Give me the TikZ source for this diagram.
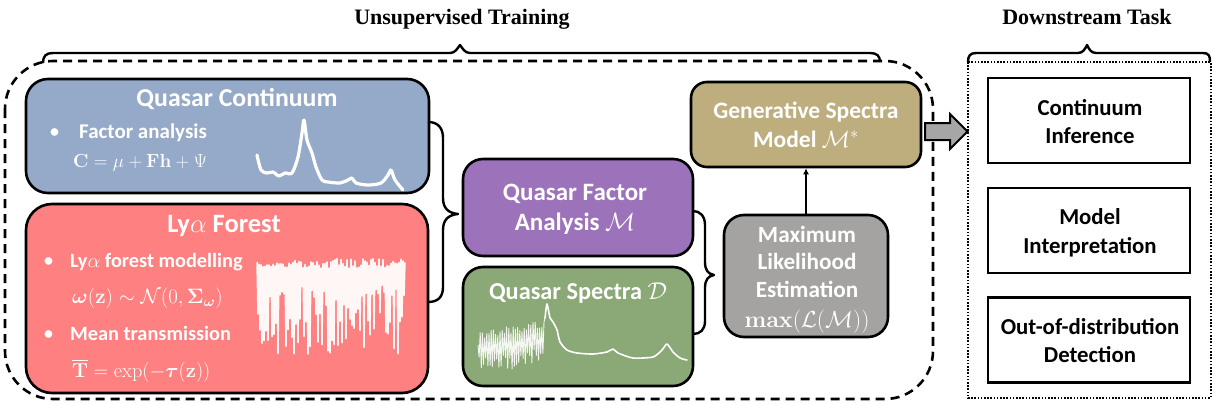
\RequirePackage{fix-cm}
\documentclass[tikz,border=0pt]{standalone}
\usepackage{amsmath,amssymb,bm}
\usepackage[no-math]{fontspec}
\setmainfont{Carlito}
\newfontfamily\titlefont{Liberation Serif}
\usetikzlibrary{arrows.meta}
\definecolor{contblue}{HTML}{95A9C9}
\definecolor{lyared}{HTML}{FF8080}
\definecolor{qfapurple}{HTML}{9C72BA}
\definecolor{qsgreen}{HTML}{8BA877}
\definecolor{gengold}{HTML}{BEAE7E}
\definecolor{mlegray}{HTML}{A4A3A1}
\definecolor{arrowgray}{HTML}{A6A6A6}
\tikzset{
  cbox/.style={draw=black, line width=2.6pt, inner sep=0pt},
  dbox/.style={draw=black, line width=2.6pt, inner sep=0pt, minimum width=202, minimum height=85},
  wtext/.style={text=white, inner sep=0pt, anchor=base, font=\fontsize{#1}{#1}\bfseries\selectfont},
  wtext/.default=21,
  btext/.style={text=black, inner sep=0pt, anchor=base, font=\fontsize{22.8}{22.8}\bfseries\selectfont},
  ftext/.style={text=white, inner sep=0pt, anchor=base west, font=\fontsize{#1}{#1}\selectfont},
  ftext/.default=19,
  ltext/.style={text=white, inner sep=0pt, anchor=base west, font=\fontsize{#1}{#1}\bfseries\selectfont},
  bracelink/.style={draw=black, line width=2.4pt, line join=round},
  heading/.style={inner sep=0pt, anchor=base, font=\fontsize{22}{22}\titlefont\bfseries\selectfont}
}
\begin{document}
\begin{tikzpicture}[x=1pt, y=-1pt]
\useasboundingbox (0,0) rectangle (1212,404);
\fill[white] (0,0) rectangle (1212,404);

% headings
\node[heading] (h1) at (462,25) {Unsupervised Training};
\node[heading] (h2) at (1087,25) {Downstream Task};

% top braces
\draw[bracelink] (43,63) .. controls (43,56) and (46,53) .. (53,53) -- (450,53)
  .. controls (455,53) and (457,49) .. (460,45) .. controls (463,49) and (465,53) .. (470,53)
  -- (870,53) .. controls (877,53) and (880,56) .. (880,62);
\draw[bracelink] (968,62) .. controls (968,56) and (970,53) .. (976,53) -- (1078,53)
  .. controls (1083,53) and (1085,49) .. (1087,45) .. controls (1089,49) and (1091,53) .. (1096,53)
  -- (1203,53) .. controls (1209,53) and (1210,56) .. (1210,62);

% dashed training frame
\draw[black, line width=2.6pt, dash pattern=on 9pt off 6pt, rounded corners=48pt] (5,61) rectangle (933,399);
% dotted downstream frame
\draw[black, line width=2pt, dash pattern=on 1.6pt off 1.6pt] (968,62) rectangle (1210.5,398);

% Quasar continuum
\node[cbox, fill=contblue, minimum width=403, minimum height=114, rounded corners=22pt] (cont) at (227.5,136) {};
\node[wtext=25.8] (contT) at (237,106) {Quasar Continuum};
\node[ltext=18] (contB) at (50,137) {\textbullet};
\node[ltext=21] (contL) at (79,138) {Factor analysis};
\node[ftext=19] (contF) at (73,167) {$\mathbf{C}=\mu+\mathbf{F}\mathbf{h}+\Psi$};
\draw[white, line width=3.2pt, line cap=round, line join=round] plot[smooth, tension=0.5] coordinates {
 (257,155) (261,170) (267,173) (273,172) (279,176) (285,173) (292,173) (298,157) (302,133) (304,120)
 (307,140) (312,153) (316,167) (322,180) (328,182) (340,183) (348,180) (352,178) (356,183) (368,185)
 (381,183) (388,175) (391,170) (395,180) (403,190)};

% Lya forest
\node[cbox, fill=lyared, minimum width=402, minimum height=189, rounded corners=26pt] (lya) at (227,298.5) {};
\node[wtext=26.5] (lyaT) at (224,232) {Ly$\alpha$ Forest};
\node[ltext=18] (lyaB1) at (44,266) {\textbullet};
\node[ltext=20.3] (lyaL1) at (70,267) {Ly$\alpha$ forest modelling};
\node[ftext=20.8] (lyaF1) at (72,303) {$\boldsymbol{\omega}(\mathbf{z})\sim\mathcal{N}(0,\boldsymbol{\Sigma}_{\boldsymbol{\omega}})$};
\node[ltext=18] (lyaB2) at (44,339) {\textbullet};
\node[ltext=20.3] (lyaL2) at (70,340) {Mean transmission};
\node[ftext=20.3] (lyaF2) at (72,377) {$\overline{\mathbf{T}}=\exp(-\boldsymbol{\tau}(\mathbf{z}))$};
\pgfmathsetseed{11}
\draw[white, opacity=0.93, line width=1.5pt, line join=round] (257,262)
  \foreach \i in {1,...,148}{ -- ({257+1.0*\i},{263+5*rand+isodd(\i)*(60+36*rand)}) };

% Quasar factor analysis
\node[cbox, fill=qfapurple, minimum width=230, minimum height=97, rounded corners=20pt] (qfa) at (578,207.5) {};
\node[wtext=25] (qfaT1) at (575,200) {Quasar Factor};
\node[wtext=25] (qfaT2) at (575,230) {Analysis $\mathcal{M}$};

% Quasar spectra
\node[cbox, fill=qsgreen, minimum width=230, minimum height=119, rounded corners=20pt] (qs) at (578,326.5) {};
\node[wtext=24.3] (qsT) at (578,299) {Quasar Spectra $\mathcal{D}$};
\pgfmathsetseed{5}
\draw[white, opacity=0.9, line width=0.9pt, line join=round] (478,345)
  \foreach \i in {1,...,60}{ -- ({478+1.1*\i},{336-0.2*\i+4*rand+isodd(\i)*(32+8*rand)}) } -- (545,318);
\draw[white, line width=1.6pt, line join=round, line cap=round] plot[smooth, tension=0.4] coordinates {
 (545,318) (547,304) (550,318) (553,322) (557,330) (560,342) (567,350) (577,353) (593,354) (607,352)
 (613,349) (618,353) (633,358) (653,357) (662,350) (667,344) (673,352) (680,358) (687,360)};

% Generative spectra model
\node[cbox, fill=gengold, minimum width=230, minimum height=85, rounded corners=16pt] (gen) at (806,124.5) {};
\node[wtext=23.5] (genT1) at (806,118) {Generative Spectra};
\node[wtext=23.5] (genT2) at (806,147) {Model $\mathcal{M}^{*}$};

% MLE
\node[cbox, fill=mlegray, minimum width=164, minimum height=122, rounded corners=20pt] (mle) at (806,276) {};
\node[wtext=23.2] (mleT1) at (807,242) {Maximum};
\node[wtext=23.2] (mleT2) at (807,269) {Likelihood};
\node[wtext=23.2] (mleT3) at (807,297) {Estimation};
\node[wtext=23.2] (mleT4) at (807,327) {$\mathbf{max}(\mathcal{L}(\mathcal{M}))$};

\draw[black, line width=2.2pt, -{Latex[length=6pt,width=6pt]}] (mle.north) -- (gen.south);

% braces between columns
\draw[bracelink] (428,122) .. controls (438,122) and (443,128) .. (443,138) -- (443,198)
  .. controls (443,208) and (448,213) .. (458,214) .. controls (448,215) and (443,220) .. (443,230)
  -- (443,287) .. controls (443,297) and (438,302) .. (428,302);
\draw[bracelink] (693,211) .. controls (700,211) and (705,216) .. (705,225) -- (705,262)
  .. controls (705,270) and (708,274) .. (714,275) .. controls (708,276) and (705,280) .. (705,288)
  -- (705,321) .. controls (705,330) and (700,334) .. (693,334);

% block arrow to downstream
\coordinate (arrTip) at (967.5,131.5);
\draw[black, line width=2pt, fill=arrowgray, line join=miter]
  (925,123) -- (950,123) -- (950,114) -- (arrTip) -- (950,149) -- (950,140) -- (925,140) -- cycle;

% downstream boxes
\node[dbox] (ds1) at (1089,120.5) {};
\node[btext] (ds1a) at (1090,115) {Continuum};
\node[btext] (ds1b) at (1090,143) {Inference};
\node[dbox] (ds2) at (1089,230.5) {};
\node[btext] (ds2a) at (1090,224) {Model};
\node[btext] (ds2b) at (1090,253) {Interpretation};
\node[dbox] (ds3) at (1089,340) {};
\node[btext] (ds3a) at (1090,334) {Out-of-distribution};
\node[btext] (ds3b) at (1090,362) {Detection};
\end{tikzpicture}
\end{document}
